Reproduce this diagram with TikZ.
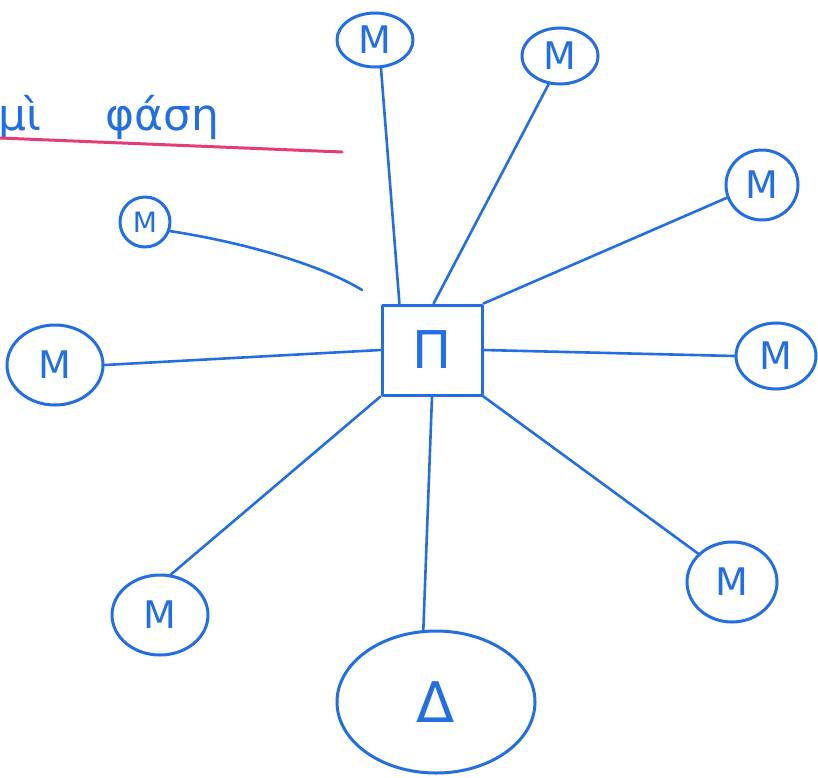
\documentclass[tikz,border=0pt]{standalone}
\usepackage{fontspec}
\setmainfont{DejaVu Sans}
\usetikzlibrary{shapes.geometric}
\definecolor{pen}{RGB}{35,110,225}
\definecolor{pink}{RGB}{228,60,120}
\begin{document}
\begin{tikzpicture}[x=1pt,y=-1pt,
  ink/.style={draw=pen,line width=3pt,line cap=round,line join=round},
  mnode/.style={ink,ellipse,inner sep=0pt,text=pen,font=\fontsize{38}{38}\selectfont},
  lnk/.style={draw=pen,line width=2.6pt,line cap=round}]
\useasboundingbox (0,0) rectangle (818,777);
\fill[white] (0,0) rectangle (818,777);
% title
\node[text=pen,font=\fontsize{44}{44}\selectfont,anchor=base east,inner sep=0pt] (t1) at (42,130) {μὶ};
\node[text=pen,font=\fontsize{44}{44}\selectfont,anchor=base,inner sep=0pt] (t2) at (162,130) {φάση};
\coordinate (u1) at (0,138);
\coordinate (u2) at (342,152);
\draw[draw=pink,line width=3pt,line cap=round] (u1) -- (u2);
% center
\node[ink,rectangle,minimum width=100pt,minimum height=90pt,text=pen,font=\fontsize{52}{52}\selectfont] (P) at (432,350) {Π};
% M nodes
\node[mnode,minimum width=76pt,minimum height=54pt] (m1) at (375,40) {M};
\node[mnode,minimum width=76pt,minimum height=56pt] (m2) at (560,56) {M};
\node[mnode,minimum width=72pt,minimum height=70pt] (m3) at (762,185) {M};
\node[mnode,minimum width=80pt,minimum height=66pt] (m4) at (776,356) {M};
\node[mnode,minimum width=90pt,minimum height=80pt] (m5) at (732,582) {M};
\node[mnode,minimum width=96pt,minimum height=80pt] (m6) at (160,615) {M};
\node[mnode,minimum width=96pt,minimum height=80pt] (m7) at (55,365) {M};
\node[mnode,minimum width=50pt,minimum height=50pt,font=\fontsize{28}{28}\selectfont] (m8) at (145,222) {M};
\node[ink,ellipse,minimum width=198pt,minimum height=142pt,text=pen,font=\fontsize{56}{56}\selectfont] (D) at (436,702) {Δ};
\coordinate (free) at (362,290);
% connectors
\draw[lnk] (m1.-78) -- (P.125);
\draw[lnk] (m2.-112) -- (P.88);
\draw[lnk] (m3.200) -- (P.north east);
\draw[lnk] (m4.west) -- (P.east);
\draw[lnk] (m5.140) -- (P.south east);
\draw[lnk] (D.100) -- (P.south);
\draw[lnk] (m6.75) -- (P.south west);
\draw[lnk] (m7.east) -- (P.west);
\draw[lnk] (m8.-20) .. controls (260,245) and (330,270) .. (free);
\end{tikzpicture}
\end{document}
